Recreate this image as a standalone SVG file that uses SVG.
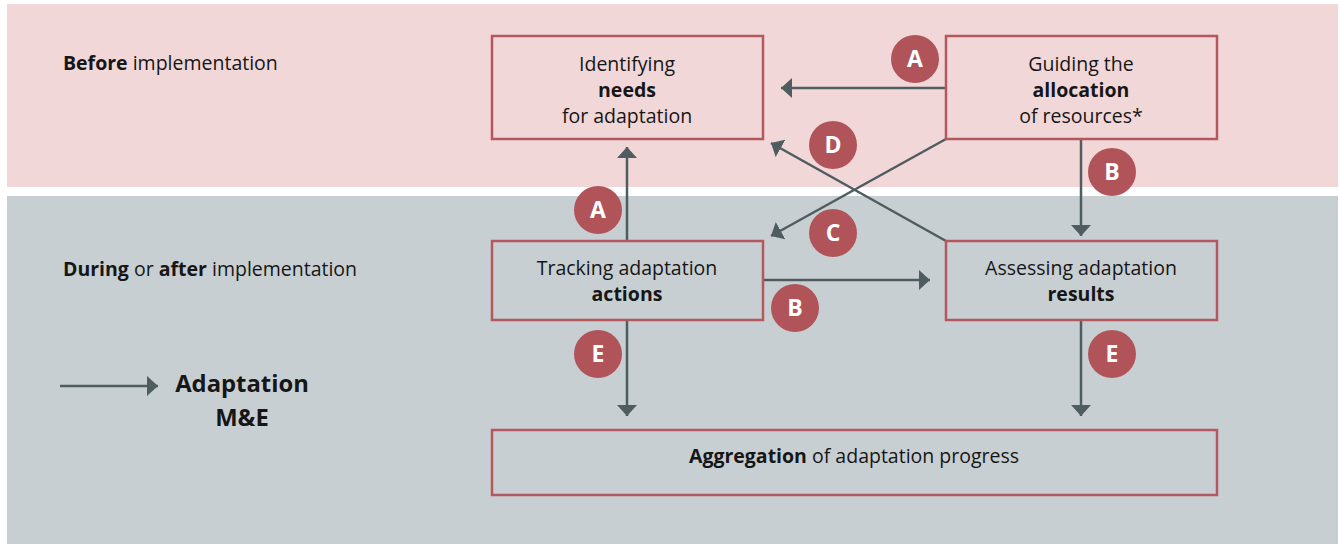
<svg xmlns="http://www.w3.org/2000/svg" width="1340" height="544" viewBox="0 0 1340 544">
<defs>
<marker id="ah" viewBox="0 0 11 20" refX="11" refY="10" markerWidth="11" markerHeight="20" markerUnits="userSpaceOnUse" orient="auto">
<path d="M0,0 L11,10 L0,20 Z" fill="#4f5d61"/>
</marker>
<style>
text{font-family:"Open Sans",Lato,"Liberation Sans",sans-serif;fill:#161616;}
.t{font-size:19.5px;text-anchor:middle;}
.l{font-size:19.5px;}
.b{font-weight:bold;}
.node{fill:none;stroke:#b5575e;stroke-width:2.5;}
.con{stroke:#4f5d61;stroke-width:2.5;fill:none;marker-end:url(#ah);}
.badge circle{fill:#b0545a;}
.badge text{fill:#ffffff;font-size:23px;font-weight:bold;text-anchor:middle;}
.lg{font-size:23.8px;font-weight:bold;text-anchor:middle;}
</style>
</defs>
<rect x="0" y="0" width="1340" height="544" fill="#ffffff"/>
<rect x="7" y="4" width="1331" height="183" fill="#f2d7d8"/>
<rect x="7" y="196" width="1331" height="348" fill="#c8cfd2"/>
<text class="l" x="63" y="70"><tspan class="b">Before</tspan> implementation</text>
<text class="l" x="63" y="276"><tspan class="b">During</tspan> or <tspan class="b">after</tspan> implementation</text>
<g id="legend">
<line class="con" x1="60" y1="386" x2="158" y2="386"/>
<text class="lg" x="242" y="392">Adaptation</text>
<text class="lg" x="242" y="426">M&amp;E</text>
</g>
<g id="connectors">
<line class="con" x1="946" y1="88" x2="781" y2="88"/>
<line class="con" x1="946" y1="241" x2="771" y2="143"/>
<line class="con" x1="946" y1="139" x2="771" y2="236"/>
<line class="con" x1="627" y1="241" x2="627" y2="147"/>
<line class="con" x1="763" y1="280" x2="930" y2="280"/>
<line class="con" x1="627" y1="320" x2="627" y2="416"/>
<line class="con" x1="1081" y1="139" x2="1081" y2="236"/>
<line class="con" x1="1081" y1="320" x2="1081" y2="416"/>
</g>
<g id="n-identifying">
<rect class="node" x="492" y="36" width="271" height="103"/>
<text class="t" x="627" y="71">Identifying</text>
<text class="t b" x="627" y="97">needs</text>
<text class="t" x="627" y="123">for adaptation</text>
</g>
<g id="n-guiding">
<rect class="node" x="946" y="36" width="271" height="103"/>
<text class="t" x="1081" y="71">Guiding the</text>
<text class="t b" x="1081" y="97">allocation</text>
<text class="t" x="1081" y="123">of resources*</text>
</g>
<g id="n-tracking">
<rect class="node" x="492" y="241" width="271" height="79"/>
<text class="t" x="627" y="275">Tracking adaptation</text>
<text class="t b" x="627" y="301">actions</text>
</g>
<g id="n-assessing">
<rect class="node" x="946" y="241" width="271" height="79"/>
<text class="t" x="1081" y="275">Assessing adaptation</text>
<text class="t b" x="1081" y="301">results</text>
</g>
<g id="n-aggregation">
<rect class="node" x="492" y="430" width="725" height="65"/>
<text class="t" x="854" y="463"><tspan class="b">Aggregation</tspan> of adaptation progress</text>
</g>
<g id="badges">
<g class="badge"><circle cx="915" cy="59" r="24"/><text x="915" y="67">A</text></g>
<g class="badge"><circle cx="833" cy="145" r="24"/><text x="833" y="153">D</text></g>
<g class="badge"><circle cx="833" cy="233" r="24"/><text x="833" y="241">C</text></g>
<g class="badge"><circle cx="598" cy="210" r="24"/><text x="598" y="218">A</text></g>
<g class="badge"><circle cx="795" cy="308" r="24"/><text x="795" y="316">B</text></g>
<g class="badge"><circle cx="598" cy="354" r="24"/><text x="598" y="362">E</text></g>
<g class="badge"><circle cx="1112" cy="172" r="24"/><text x="1112" y="180">B</text></g>
<g class="badge"><circle cx="1112" cy="354" r="24"/><text x="1112" y="362">E</text></g>
</g>
</svg>
